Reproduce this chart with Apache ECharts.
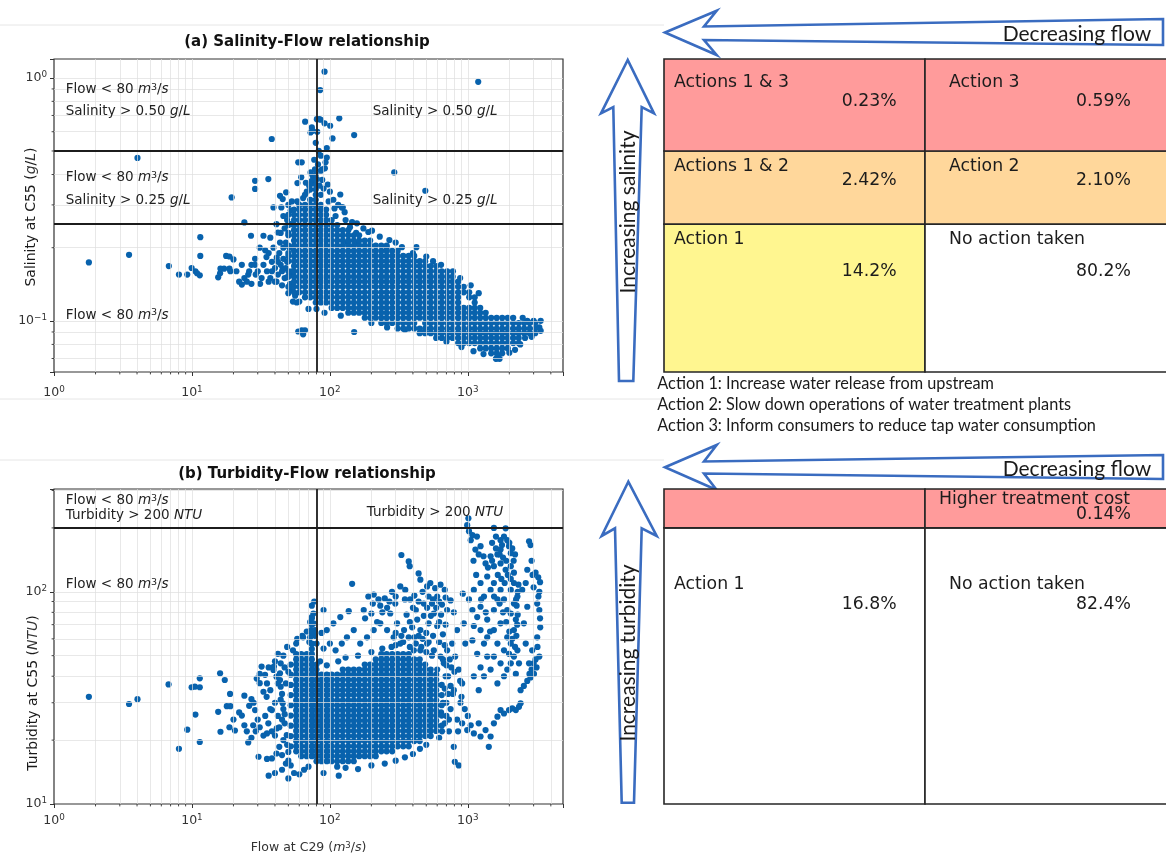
<!DOCTYPE html>
<html>
<head>
<meta charset="utf-8">
<script src="https://cdn.jsdelivr.net/npm/echarts@6.0.0/dist/echarts.min.js"></script>
<style>
html,body{margin:0;padding:0;background:#ffffff;}
#chart{width:1166px;height:857px;}
</style>
</head>
<body>
<div id="chart"></div>
<script>
// ---------------- DATA ----------------
const flowThreshold = 80;
const salinityThresholds = [0.25, 0.5];
const turbidityThreshold = 200;
const flowRange = [1, 4900];
const salinityRange = [0.0616, 1.195];
const turbidityRange = [10, 305];
const flowLabelExps = [0, 1, 2, 3];
const salinityLabelExps = [-1, 0];
const turbidityLabelExps = [1, 2];
const flowGrid = [2,3,4,5,6,7,8,9,10,20,30,40,50,60,70,80,90,100,200,300,400,500,600,700,800,900,1000,2000,3000,4000];
const salinityGrid = [0.07,0.08,0.09,0.1,0.2,0.3,0.4,0.5,0.6,0.7,0.8,0.9,1];
const turbidityGrid = [20,30,40,50,60,70,80,90,100,200,300];
const flowMinor = [2,3,4,5,6,7,8,9,20,30,40,50,60,70,80,90,200,300,400,500,600,700,800,900,2000,3000,4000];
const salinityMinor = [0.07,0.08,0.09,0.2,0.3,0.4,0.5,0.6,0.7,0.8,0.9];
const turbidityMinor = [20,30,40,50,60,70,80,90,200,300];

const salinitySparse = [
[1.79,0.174],[3.5,0.187],[4.03,0.468],[6.8,0.168],[8.05,0.155],[9.25,0.155],[9.95,0.165],[10.6,0.16],[11.4,0.154],[11.5,0.221],[11.5,0.185],[10.9,0.157],
[15.5,0.151],[16,0.157],[17.1,0.164],[17.7,0.185],[18.7,0.184],[20,0.179],[19.4,0.322],[16.1,0.164],[18.7,0.164],[23,0.141],[24,0.254],[25.6,0.155],[26.8,0.224],
[28.7,0.377],[28.7,0.349],[28.7,0.18],[28.7,0.17],[27,0.142],[31.2,0.142],[33,0.224],[34.7,0.183],[35.8,0.383],[37.9,0.56],[39,0.293],[41.2,0.182],[43.5,0.327],
[45.5,0.317],[44.5,0.293],[48.2,0.338],[42,0.231],[43.5,0.21],[45.5,0.164],[48.7,0.151],[51.5,0.142],[56,0.127],[57.5,0.119],[59,0.0904],[59,0.449],
[33,0.17],[35,0.16],[37,0.15],[38,0.175],[40,0.165],[41,0.145],[42,0.155],[44,0.17],[45,0.16],[46,0.18],[47,0.15],[48,0.165],[49,0.175],[50,0.19],[51,0.2],
[52,0.155],[53,0.16],[36,0.19],[39,0.2],[43,0.19],[46,0.2],[48,0.21],[50,0.23],[52,0.25],[49,0.26],[47,0.24],[44,0.23],[30,0.16],[32,0.15],[29,0.155],[26,0.16],
[27,0.17],[25,0.145],[24,0.15],[22,0.145],[21,0.16],[23,0.17],[19,0.16],[34,0.195],[31,0.2],[40,0.145],[45,0.14],[42,0.175],[38,0.16],[36,0.145],[50,0.13],
[53,0.135],[54,0.12],[52,0.285],[46,0.27],[41,0.25],[37,0.22],[53,0.31],[50,0.3],
[91.5,1.06],[85,0.89],[1190,0.963],[66.2,0.66],[74,0.625],[80.5,0.676],[84,0.676],[86,0.672],[91.5,0.65],[100.5,0.635],[117,0.681],[150,0.581],[104.5,0.563],
[72.4,0.596],[75,0.605],[95,0.514],[86,0.478],[93,0.449],[92,0.424],[86,0.415],[95,0.47],[62.5,0.449],[75,0.395],[72.5,0.408],[80.5,0.383],[88,0.42],[96.6,0.364],
[293,0.408],[492,0.343],[119,0.331],[106,0.315],[122,0.293],[124,0.293],[58.2,0.369],[70.8,0.36],[74,0.377],[157,0.252],[202,0.235],[140,0.243],[155,0.23],
[135,0.21],[161,0.209],[258,0.201],[333,0.201],[424,0.201],[500,0.184],
[110,0.27],[130,0.26],[145,0.255],[175,0.24],[190,0.232],[230,0.222],[270,0.215],[300,0.21],[90,0.35],[84,0.36],[78,0.42],[82,0.44],[88,0.38],[100,0.34],
[68,0.34],[64,0.32],[58,0.31],[98,0.31],[108,0.29],[115,0.3],[128,0.28],[62,0.39],[67,0.37],[77,0.46],[83,0.5],[79,0.54],[81,0.6],
[62.5,0.0915],[66,0.0915],[64,0.088],[91.5,0.108],[80,0.112],[150,0.09],[487,0.09],[350,0.092],[70,0.112],[60,0.12],[120,0.105],[200,0.098],[260,0.094],
[700,0.082],[900,0.078],[1100,0.075],[1300,0.073],[1600,0.0698],[1650,0.072],[1700,0.0698],[2000,0.074],[2200,0.076],[2400,0.08],[2600,0.085],[2900,0.086],
[3300,0.094],[3376,0.1],[2700,0.1],[3000,0.1],[2500,0.103],[1200,0.13],[1050,0.14],[880,0.15],[640,0.17],[560,0.176],[400,0.19],[780,0.16]
];

const salinityDenseCols = [
[50,[0.138,0.152,0.16,0.176,0.185,0.204,0.225,0.248,0.273]],
[55,[0.131,0.138,0.145,0.152,0.16,0.168,0.176,0.185,0.194,0.204,0.214,0.225,0.236,0.248,0.26,0.273,0.287]],
[60,[0.131,0.138,0.145,0.152,0.16,0.168,0.176,0.185,0.194,0.204,0.214,0.225,0.236,0.248,0.26,0.273,0.287,0.3]],
[66,[0.125,0.131,0.138,0.145,0.152,0.16,0.168,0.176,0.185,0.194,0.204,0.214,0.225,0.236,0.248,0.26,0.273,0.287,0.3,0.33]],
[72,[0.125,0.131,0.138,0.145,0.152,0.16,0.168,0.176,0.185,0.194,0.204,0.214,0.225,0.236,0.248,0.26,0.273,0.287,0.3,0.315,0.347,0.364]],
[79,[0.119,0.125,0.131,0.138,0.145,0.152,0.16,0.168,0.176,0.185,0.194,0.204,0.214,0.225,0.236,0.248,0.26,0.273,0.287,0.3,0.315,0.33,0.347,0.364,0.382,0.4]],
[86,[0.119,0.125,0.131,0.138,0.145,0.152,0.16,0.168,0.176,0.185,0.194,0.204,0.214,0.225,0.236,0.248,0.26,0.273,0.287,0.3,0.33]],
[94,[0.119,0.125,0.131,0.138,0.145,0.152,0.16,0.168,0.176,0.185,0.194,0.204,0.214,0.225,0.236,0.248,0.26,0.273,0.287]],
[103,[0.113,0.119,0.125,0.131,0.138,0.145,0.152,0.16,0.168,0.176,0.185,0.194,0.204,0.214,0.225,0.236,0.248,0.26]],
[113,[0.113,0.119,0.125,0.131,0.138,0.145,0.152,0.16,0.168,0.176,0.185,0.194,0.204,0.214,0.225,0.236,0.248]],
[124,[0.113,0.119,0.125,0.131,0.138,0.145,0.152,0.16,0.168,0.176,0.185,0.194,0.204,0.214,0.225,0.236]],
[136,[0.108,0.113,0.119,0.125,0.131,0.138,0.145,0.152,0.16,0.168,0.176,0.185,0.194,0.204,0.214,0.225,0.236]],
[149,[0.108,0.113,0.119,0.125,0.131,0.138,0.145,0.152,0.16,0.168,0.176,0.185,0.194,0.204,0.214,0.225]],
[163,[0.108,0.113,0.119,0.125,0.131,0.138,0.145,0.152,0.16,0.168,0.176,0.185,0.194,0.204,0.214,0.225]],
[179,[0.103,0.108,0.113,0.119,0.125,0.131,0.138,0.145,0.152,0.16,0.168,0.176,0.185,0.194,0.204,0.214]],
[196,[0.103,0.108,0.113,0.119,0.125,0.131,0.138,0.145,0.152,0.16,0.168,0.176,0.185,0.194,0.204,0.214]],
[215,[0.103,0.108,0.113,0.119,0.125,0.131,0.138,0.145,0.152,0.16,0.168,0.176,0.185,0.194,0.204]],
[236,[0.098,0.103,0.108,0.113,0.119,0.125,0.131,0.138,0.145,0.152,0.16,0.168,0.176,0.185,0.194,0.204]],
[258,[0.098,0.103,0.108,0.113,0.119,0.125,0.131,0.138,0.145,0.152,0.16,0.168,0.176,0.185,0.194,0.204]],
[283,[0.098,0.103,0.108,0.113,0.119,0.125,0.131,0.138,0.145,0.152,0.16,0.168,0.176,0.185,0.194]],
[310,[0.093,0.098,0.103,0.108,0.113,0.119,0.125,0.131,0.138,0.145,0.152,0.16,0.168,0.176,0.185,0.194]],
[340,[0.093,0.098,0.103,0.108,0.113,0.119,0.125,0.131,0.138,0.145,0.152,0.16,0.168,0.176,0.185]],
[373,[0.093,0.098,0.103,0.108,0.113,0.119,0.125,0.131,0.138,0.145,0.152,0.16,0.168,0.176,0.185]],
[409,[0.093,0.098,0.103,0.108,0.113,0.119,0.125,0.131,0.138,0.145,0.152,0.16,0.168,0.176,0.185]],
[448,[0.089,0.093,0.103,0.108,0.113,0.119,0.125,0.131,0.138,0.145,0.152,0.16,0.168,0.176]],
[491,[0.089,0.093,0.098,0.103,0.108,0.113,0.119,0.125,0.131,0.138,0.145,0.152,0.16,0.168,0.176]],
[538,[0.089,0.093,0.098,0.103,0.108,0.113,0.119,0.125,0.131,0.138,0.145,0.152,0.16,0.168]],
[590,[0.085,0.089,0.093,0.098,0.103,0.108,0.113,0.119,0.125,0.131,0.138,0.145,0.152,0.16,0.168]],
[647,[0.085,0.089,0.093,0.098,0.103,0.108,0.113,0.119,0.125,0.131,0.138,0.145,0.152,0.16]],
[709,[0.085,0.089,0.093,0.098,0.103,0.108,0.113,0.119,0.125,0.131,0.138,0.145,0.152,0.16]],
[777,[0.085,0.089,0.093,0.098,0.103,0.108,0.113,0.119,0.125,0.131,0.138,0.145,0.152]],
[852,[0.081,0.085,0.089,0.093,0.098,0.103,0.108,0.113,0.119,0.125,0.131,0.138,0.145]],
[934,[0.081,0.085,0.089,0.093,0.098,0.103,0.108,0.113,0.131,0.138]],
[1024,[0.081,0.085,0.089,0.093,0.098,0.103,0.108,0.113,0.125,0.131]],
[1122,[0.081,0.085,0.089,0.093,0.098,0.103,0.108,0.113,0.119,0.125]],
[1230,[0.077,0.081,0.085,0.089,0.093,0.098,0.103,0.108,0.113]],
[1348,[0.077,0.081,0.085,0.089,0.093,0.098,0.103,0.108]],
[1478,[0.0735,0.077,0.081,0.085,0.089,0.093,0.098,0.103]],
[1620,[0.07,0.0735,0.077,0.081,0.085,0.089,0.093,0.098,0.103]],
[1776,[0.0735,0.077,0.081,0.085,0.089,0.093,0.098,0.103]],
[1947,[0.077,0.081,0.085,0.089,0.093,0.098,0.103]],
[2134,[0.081,0.085,0.089,0.093,0.098,0.103]],
[2339,[0.081,0.085,0.089,0.093,0.098]],
[2564,[0.089,0.093,0.098]],
[2810,[0.089,0.093,0.098]],
[3080,[0.089,0.093,0.098]],
[3376,[0.091]]
];

const turbiditySparse = [
[1.79,32],[3.5,29.6],[4.03,31.2],[6.77,36.6],[8.05,18.2],[9.25,22.4],[9.95,35.5],[10.5,35.7],[11.4,39.1],[11.4,35.5],[10.6,26.4],[11.4,19.6],
[16,41.3],[17.3,38.4],[18.9,33],[17.9,28.9],[19,28.9],[15.5,27.2],[16.1,21.9],[18.7,23],[20.5,22.2],[23,26.1],[24,32.4],[25.6,19.5],[27,31.2],[27.8,23.5],
[28.7,27.7],[30.4,16.7],[32,44.4],[33.9,40.6],[29.5,39],[31,37.1],[33,33.8],[34.8,32],[35.8,24],[38,27.7],[39.3,44.4],[38,16.4],[41.2,22.7],[43,18.6],
[43.5,41.3],[43.5,38.4],[44,35.7],[45,33],[45.5,29.8],[47,24],[48.7,21.1],[50,17.6],[52,15.2],
[31,41],[35,37],[37,34.4],[39,42.8],[41,39.8],[42,37],[44,31],[46,28],[47,26.5],[45,25],[43,23],[40,21],[38,22],[35,21.5],[33,21],[31,23],[29,22],[27,20.5],
[25,22],[24,23.5],[35,16.3],[41,17.3],[45,17],[48,15.5],[50,16],[49,19],[46,20],[42,26],[40,30],[37,28],[34,26],[30,25],[28,30],[26,29],[22,27],[20,25],
[36,44],[40,47],[44,46],[47,44],[50,42],[48,37],[46,50],[42,51],[49,55],[45,14.5],[40,14],[36,13.6],[50,13.2],[55,14],[60,13.8],[65,14.5],[70,15],
[58,60],[63,62],[68,65],[72,72],[76,79],[74,86],[77,90],[73,66],[78,62],[71,58],
[330,149],[373,139],[379,132],[145,109],[137,81],[176,82],[190,95],[205,88],[208,97],[225,92],[232,86],[250,93],[260,84],[282,100],[298,88],[274,79],[200,79],
[180,75],[324,106],[352,102],[382,92],[440,122],[453,114],[507,106],[535,110],[580,104],[634,108],[680,102],[600,95],[550,88],[507,84],[567,79],[650,87],
[708,82],[480,77],[430,74],[395,68],[453,66],[520,71],[600,69],[660,63],[307,71],[345,66],[373,61],[290,61],[324,57],[260,66],[232,71],[208,66],[186,61],
[166,57],[149,66],[133,61],[122,57],[110,53],[100,57],[90,54],[80,57],[87,64],[95,66],[106,71],[119,76],[90,82],[74,76],[76,71],[78,66],[72,61],[74,57],
[64,61],[57,57],[54,53],[507,57],[567,53],[634,49.5],[708,53],[670,46],[600,43],[453,53],[406,53],
[300,56],[340,58],[380,55],[420,57],[460,55],[500,52],[550,50],[280,55],[240,54],[200,52],[160,50],[130,49],[115,47],[95,45],[85,47],
[410,96],[470,100],[520,95],[560,92],[620,90],[690,94],[400,84],[440,90],[590,84],[640,78],[360,78],[420,82],[480,88],[540,77],[620,72],[690,70],[380,72],
[440,62],[500,64],[560,62],[620,58],[680,56],[350,92],[300,95],[270,90],[240,80],[220,72],[300,64],[330,62],[410,61],[470,60],[520,58],
[750,91],[792,80],[836,66],[770,57],[810,49.5],[860,43],[910,37],[792,34.4],[885,30],[750,28],[836,25],[730,22],[791,18.6],[805,15.8],[860,15.2],[935,71],
[960,57],[910,24],[990,22.3],[920,98],[720,40],[750,36],[780,33],[700,30],[730,25],[680,24],[900,32],[950,28],[1000,26],[850,22],[880,38],[700,45],[660,48],
[680,35],[660,30],[700,26],[650,22],[720,33],[760,44],[640,27],[690,40],[740,48],[800,42],
[1010,222],[990,206],[1020,193],[1080,185],[1050,175],[1165,182],[1135,158],[1237,164],[1300,147],[1345,136],[1463,147],[1546,200],[1600,182],[1728,175],
[1770,166],[1830,182],[1880,199],[1932,175],[1990,164],[2050,152],[1728,158],[1640,150],[1546,132],[1728,136],[1880,127],[2050,132],[2160,123],[2160,110],
[2050,102],[2290,95],[2160,88],[2050,79],[2230,74],[2160,66],[1932,61],[2050,57],[1830,53],[1640,57],[1546,49.5],[1728,46],[1932,43],[1830,40],[1640,37],
[1463,43],[1383,49.5],[1310,57],[1237,66],[1383,74],[1546,82],[1640,92],[1463,102],[1310,95],[1237,85],[1170,76],[1106,69],[1080,59],[1170,51],[1237,44],
[1106,40],[1200,34.4],[1310,40],[1080,82],[1020,92],[1106,102],[1237,110],[1383,118],[1546,110],[1728,102],[1830,92],[1932,82],[1728,71],[1546,66],[1383,61],
[2160,49.5],[2290,53],[2350,46],[2230,41],[2050,46],[1990,51],
[1500,170],[1600,160],[1700,150],[1800,145],[1900,140],[2000,170],[2100,160],[2200,150],[1650,120],[1750,115],[1850,110],[1950,120],[2050,115],[2150,140],
[1550,95],[1700,88],[1800,80],[1900,72],[2000,65],[2100,60],[2200,55],[1450,65],[1350,80],[1250,92],[1150,120],[1100,140],[1200,150],[1400,130],[1500,140],
[2250,62],[2280,70],[2300,78],[2260,86],[2240,92],[2300,100],[2330,108],
[1050,23.5],[1106,21.5],[1200,24],[1237,20.8],[1345,22.3],[1463,20.8],[1546,24],[1640,25.8],[1728,27.7],[1830,26.7],[1990,27.7],[2100,28.2],[2230,27.7],
[2350,28.7],[2414,29.8],[1420,18.6],
[2780,173],[2850,166],[2699,127],[3100,123],[3240,117],[3340,111],[3300,100],[3185,88],[3340,75],[3185,61],[3300,49.5],[3150,44],[3017,41],[2850,39.5],
[2699,38],[2550,36],[2414,34.4],[2780,46],[2930,53],[2630,57],[2550,71],[2699,85],[2480,102],[2630,110],
[2900,140],[2950,120],[3000,105],[3250,95],[3300,82],[3350,68],[3200,55],[3100,48],[3000,46],[2900,43],[2800,41],
[116,13.6],[90,14],[130,14.8],[200,15.2],[300,16],[400,17.2],[500,19],[620,20.5],[160,14.6],[250,15.5],[350,16.6],[450,18.2]
];

const turbidityDenseCols = [
[52,[18.7,20.9,23.4,26.1,29.2,32.6,36.4,40.7,45.4]],
[57,[17.7,18.7,19.8,20.9,22.1,23.4,24.7,26.1,27.6,29.2,30.8,32.6,34.4,36.4,38.5,40.7,43,45.4,48,50.8]],
[62,[16.8,17.7,18.7,19.8,20.9,22.1,23.4,24.7,26.1,27.6,29.2,30.8,32.6,34.4,36.4,38.5,40.7,43,45.4,48,50.8]],
[68,[16.8,17.7,18.7,19.8,20.9,22.1,23.4,24.7,26.1,27.6,29.2,30.8,32.6,34.4,36.4,38.5,40.7,43,45.4,48,50.8]],
[74,[16.8,17.7,18.7,19.8,20.9,22.1,23.4,24.7,26.1,27.6,29.2,30.8,32.6,34.4,36.4,38.5,40.7,43,45.4,48,50.8,53.7,56.7,64,70,75]],
[80,[15.9,16.8,17.7,18.7,19.8,20.9,22.1,23.4,24.7,26.1,27.6,29.2,30.8,32.6,34.4,36.4,38.5,40.7,43,45.4]],
[87,[15.9,16.8,17.7,18.7,19.8,20.9,22.1,23.4,24.7,26.1,27.6,29.2,30.8,32.6,34.4,36.4,38.5,40.7]],
[95,[15.9,16.8,17.7,18.7,19.8,20.9,22.1,23.4,24.7,26.1,27.6,29.2,30.8,32.6,34.4,36.4,38.5,40.7]],
[103,[15.9,16.8,17.7,18.7,19.8,20.9,22.1,23.4,24.7,26.1,27.6,29.2,30.8,32.6,34.4,36.4,38.5,40.7]],
[113,[15,15.9,16.8,17.7,18.7,19.8,20.9,22.1,23.4,24.7,26.1,27.6,29.2,30.8,32.6,34.4,36.4,38.5,40.7]],
[124,[15.9,16.8,17.7,18.7,19.8,20.9,22.1,23.4,24.7,26.1,27.6,29.2,30.8,32.6,34.4,36.4,38.5,40.7,43]],
[136,[15.9,16.8,17.7,18.7,19.8,20.9,22.1,23.4,24.7,26.1,27.6,29.2,30.8,32.6,34.4,36.4,38.5,40.7,43]],
[149,[15.9,16.8,17.7,18.7,19.8,20.9,22.1,23.4,24.7,26.1,27.6,29.2,30.8,32.6,34.4,36.4,38.5,40.7,43]],
[163,[16.8,17.7,18.7,19.8,20.9,22.1,23.4,24.7,26.1,27.6,29.2,30.8,32.6,34.4,36.4,38.5,40.7,43]],
[179,[16.8,17.7,18.7,19.8,20.9,22.1,23.4,24.7,26.1,27.6,29.2,30.8,32.6,34.4,36.4,38.5,40.7,43,45.4]],
[196,[16.8,17.7,18.7,19.8,20.9,22.1,23.4,24.7,26.1,27.6,29.2,30.8,32.6,34.4,36.4,38.5,40.7,43,45.4]],
[215,[16.8,17.7,18.7,19.8,20.9,22.1,23.4,24.7,26.1,27.6,29.2,30.8,32.6,34.4,36.4,38.5,40.7,43,45.4,48]],
[236,[17.7,18.7,19.8,20.9,22.1,23.4,24.7,26.1,27.6,29.2,30.8,32.6,34.4,36.4,38.5,40.7,43,45.4,48,50.8]],
[258,[17.7,18.7,19.8,20.9,22.1,23.4,24.7,26.1,27.6,29.2,30.8,32.6,34.4,36.4,38.5,40.7,43,45.4,48,50.8]],
[283,[17.7,18.7,19.8,20.9,22.1,23.4,24.7,26.1,27.6,29.2,30.8,32.6,34.4,36.4,38.5,40.7,43,45.4,48,50.8]],
[310,[18.7,19.8,20.9,22.1,23.4,24.7,26.1,27.6,29.2,30.8,32.6,34.4,36.4,38.5,40.7,43,45.4,48,50.8]],
[340,[18.7,19.8,20.9,22.1,23.4,24.7,26.1,27.6,29.2,30.8,32.6,34.4,36.4,38.5,40.7,43,45.4,48,50.8]],
[373,[18.7,19.8,20.9,22.1,23.4,24.7,26.1,27.6,29.2,30.8,32.6,34.4,36.4,38.5,40.7,43,45.4,48,50.8]],
[409,[19.8,20.9,22.1,23.4,24.7,26.1,27.6,29.2,30.8,32.6,34.4,36.4,38.5,40.7,43,45.4,48]],
[448,[19.8,20.9,22.1,23.4,24.7,26.1,27.6,29.2,30.8,32.6,34.4,36.4,38.5,40.7,43,45.4,48]],
[491,[20.9,22.1,23.4,24.7,26.1,27.6,29.2,30.8,32.6,34.4,36.4,38.5,40.7,43,45.4]],
[538,[20.9,22.1,23.4,24.7,26.1,27.6,29.2,30.8,32.6,34.4,36.4,38.5,40.7,43]],
[590,[22.1,23.4,24.7,26.1,27.6,29.2,30.8,32.6,34.4,36.4,38.5,40.7]],
[647,[23.4,26.1,29.2,32.6,36.4]]
];

// Decision tables (rows bottom -> top, columns: flow < 80 | flow >= 80)
const salinityRowActions = [["Action 1","No action taken"],["Actions 1 & 2","Action 2"],["Actions 1 & 3","Action 3"]];
const salinityRowShares = [[14.2,80.2],[2.42,2.10],[0.23,0.59]];
const turbidityRowActions = [["Action 1","No action taken"],["","Higher treatment cost"]];
const turbidityRowShares = [[16.8,82.4],[null,0.14]];
const actionNotes = [
  "Action 1: Increase water release from upstream",
  "Action 2: Slow down operations of water treatment plants",
  "Action 3: Inform consumers to reduce tap water consumption"
];

// ---------------- STYLE / LAYOUT ----------------
const DOT = '#0862ad';
const FONT = 'DejaVu Sans';
const ARROW_FONT = 'Lato';
const TABLE_COL_PX = 261;
const TABLE_VISIBLE_PX = 502;
const salinityCellColors = [['#fff690','#ffffff'],['#ffd79b','#ffd79b'],['#ff9b9b','#ff9b9b']];
const turbidityCellColors = [['#ffffff','#ffffff'],['#ff9b9b','#ff9b9b']];
const salinityCellText = [
  [{nx:10,ny:15.8,px:232.7,py:47.8},{nx:24,ny:15.8,px:206,py:47.8}],
  [{nx:10,ny:15.9,px:232.7,py:29.9},{nx:24,ny:15.9,px:206,py:29.9}],
  [{nx:10,ny:23.7,px:232.7,py:42.7},{nx:24,ny:23.7,px:206,py:42.7}]
];
const turbidityCellText = [
  [{nx:10,ny:56.2,px:232.7,py:76.2},{nx:24,ny:56.2,px:206,py:76.2}],
  [{nx:10,ny:10.7,px:232.7,py:25.7},{nx:14,ny:10.7,px:206,py:25.7}]
];

const expand = cols => cols.flatMap(([f, vals]) => vals.map(v => [f, v]));
const salinityPoints = salinitySparse.concat(expand(salinityDenseCols));
const turbidityPoints = turbiditySparse.concat(expand(turbidityDenseCols));

function bandsFrom(range, thresholds) {
  const b = [range[0]].concat(thresholds).concat([range[1]]);
  const out = [];
  for (let i = 0; i < b.length - 1; i++) out.push([b[i], b[i + 1]]);
  return out;
}
function buildCells(range, thresholds, actions, shares, colors, layout) {
  const bands = bandsFrom(range, thresholds);
  const cells = [];
  bands.forEach((band, r) => {
    for (let c = 0; c < 2; c++) {
      cells.push({value: [c, band[0], band[1], r, c], name: actions[r][c], share: shares[r][c], color: colors[r][c], lay: layout[r][c]});
    }
  });
  return cells;
}
const salinityCells = buildCells(salinityRange, salinityThresholds, salinityRowActions, salinityRowShares, salinityCellColors, salinityCellText);
const turbidityCells = buildCells(turbidityRange, [turbidityThreshold], turbidityRowActions, turbidityRowShares, turbidityCellColors, turbidityCellText);

const fmtShare = v => (v >= 10 ? v.toFixed(1) : v.toFixed(2)) + '%';

function cellRenderer(cells) {
  return function (params, api) {
    const cell = cells[params.dataIndex];
    const c = api.value(0), lo = api.value(1), hi = api.value(2);
    const tl = api.coord([c, hi]);
    const br = api.coord([c + 1, lo]);
    const children = [{
      type: 'rect',
      shape: {x: tl[0], y: tl[1], width: br[0] - tl[0], height: br[1] - tl[1]},
      style: {fill: cell.color, stroke: '#262626', lineWidth: 1.6}
    }];
    const L = cell.lay;
    const ts = (txt, align) => ({text: txt, fontSize: 17.3, fontFamily: FONT, fill: '#1c1c1c',
      align: align, textAlign: align, verticalAlign: 'middle', textVerticalAlign: 'middle'});
    if (cell.name) children.push({type: 'text', x: tl[0] + L.nx, y: tl[1] + L.ny, style: ts(cell.name, 'left'), z2: 10});
    if (cell.share != null) children.push({type: 'text', x: tl[0] + L.px, y: tl[1] + L.py, style: ts(fmtShare(cell.share), 'right'), z2: 10});
    return {type: 'group', children: children};
  };
}

// minor tick marks drawn through the axes' own scales
function minorTickRenderer(dir, anchor) {
  return function (params, api) {
    const v = api.value(0);
    const p = dir === 'x' ? api.coord([v, anchor]) : api.coord([anchor, v]);
    const shape = dir === 'x' ? {x1: p[0], y1: p[1], x2: p[0], y2: p[1] + 2.4} : {x1: p[0], y1: p[1], x2: p[0] - 2.4, y2: p[1]};
    return {type: 'line', shape: shape, style: {stroke: '#333', lineWidth: 0.9}};
  };
}
function minorTickSeries(dir, vals, xi, yi, anchor) {
  return {type: 'custom', xAxisIndex: xi, yAxisIndex: yi, silent: true, clip: false, z: 7,
    data: vals.map(v => [v]), encode: {x: dir === 'x' ? 0 : null, y: dir === 'y' ? 0 : null},
    renderItem: minorTickRenderer(dir, anchor)};
}

function expFormatter(allowed) {
  return function (value) {
    const e = Math.log10(value);
    const r = Math.round(e);
    if (Math.abs(e - r) > 1e-6 || allowed.indexOf(r) < 0) return '';
    return '{b|10}{s|' + (r < 0 ? '\u2212' + (-r) : r) + '}';
  };
}
const tickRich = {
  b: {fontSize: 12.5, fontFamily: FONT, color: '#333', lineHeight: 16},
  s: {fontSize: 8.8, fontFamily: FONT, color: '#333', verticalAlign: 'top', lineHeight: 9}
};

function logAxis(gridIndex, range, allowed, margin, extra) {
  return Object.assign({
    type: 'log', logBase: 10, gridIndex: gridIndex, min: range[0], max: range[1],
    axisLine: {show: false},
    axisTick: {show: true, length: 4, lineStyle: {color: '#333', width: 1}},
    axisLabel: {formatter: expFormatter(allowed), rich: tickRich, margin: margin, color: '#333'},
    splitLine: {show: false}, minorTick: {show: false}
  }, extra || {});
}

const gridLineStyle = {color: 'rgba(222,222,222,0.7)', width: 1, type: 'solid'};
const threshStyle = {color: '#1c1c1c', width: 1.8, type: 'solid'};
function gridMarkLines(xVals, yVals) {
  return {
    silent: true, symbol: ['none', 'none'], z: 3, label: {show: false},
    lineStyle: gridLineStyle,
    data: xVals.map(v => ({xAxis: v})).concat(yVals.map(v => ({yAxis: v})))
  };
}
function threshMarkLines(xVals, yVals) {
  return {
    silent: true, symbol: ['none', 'none'], z: 6, label: {show: false},
    lineStyle: threshStyle,
    data: xVals.map(v => ({xAxis: v})).concat(yVals.map(v => ({yAxis: v})))
  };
}

const richAnn = {
  i: {fontStyle: 'italic', fontSize: 13.5, fontFamily: FONT, fill: '#222', color: '#222'},
  p: {fontSize: 9.5, fontFamily: FONT, fill: '#222', color: '#222', verticalAlign: 'top', lineHeight: 10}
};
function ann(x, y, text) {
  return {type: 'text', x: x, y: y, z: 20, silent: true,
    style: {text: text, rich: richAnn, fontSize: 13.5, fontFamily: FONT, fill: '#222',
      align: 'left', textAlign: 'left', verticalAlign: 'middle', textVerticalAlign: 'middle'}};
}
const flowTxt = 'Flow < ' + flowThreshold + ' {i|m}{p|3}/{i|s}';
const sal50 = 'Salinity > ' + salinityThresholds[1].toFixed(2) + ' {i|g}/{i|L}';
const sal25 = 'Salinity > ' + salinityThresholds[0].toFixed(2) + ' {i|g}/{i|L}';
const turbTxt = 'Turbidity > ' + turbidityThreshold + ' {i|NTU}';

function plainText(x, y, text, size, family, extra) {
  return Object.assign({type: 'text', x: x, y: y, z: 20, silent: true,
    style: {text: text, fontSize: size, fontFamily: family, fill: '#1a1a1a',
      align: 'left', textAlign: 'left', verticalAlign: 'middle', textVerticalAlign: 'middle'}}, extra || {});
}
function rotText(x, y, text, size, family, rich) {
  return {type: 'text', x: x, y: y, rotation: Math.PI / 2, z: 20, silent: true,
    style: {text: text, rich: rich, fontSize: size, fontFamily: family, fill: '#1a1a1a',
      align: 'center', textAlign: 'center', verticalAlign: 'middle', textVerticalAlign: 'middle'}};
}
const arrowStyle = {fill: '#ffffff', stroke: '#3a6cc0', lineWidth: 2.6, lineJoin: 'miter'};
const sepStyle = {stroke: '#e6e6e6', lineWidth: 1};
const yTitleRich = {i: {fontStyle: 'italic', fontSize: 14, fontFamily: FONT, fill: '#333', color: '#333'}};

const option = {
  animation: false,
  backgroundColor: '#ffffff',
  textStyle: {fontFamily: FONT},
  title: [
    {text: '(a) Salinity-Flow relationship', left: 307, top: 35, textAlign: 'center', padding: 0,
      textStyle: {fontSize: 15, fontWeight: 'bold', fontFamily: FONT, color: '#111'}},
    {text: '(b) Turbidity-Flow relationship', left: 307, top: 467, textAlign: 'center', padding: 0,
      textStyle: {fontSize: 15, fontWeight: 'bold', fontFamily: FONT, color: '#111'}}
  ],
  grid: [
    {left: 54, top: 59, width: 509, height: 313, show: true, borderColor: '#333', borderWidth: 1.2, backgroundColor: 'transparent'},
    {left: 54, top: 489, width: 509, height: 315, show: true, borderColor: '#333', borderWidth: 1.2, backgroundColor: 'transparent'},
    {left: 664, top: 59, width: TABLE_VISIBLE_PX, height: 313, show: false, outerBoundsMode: 'none'},
    {left: 664, top: 489, width: TABLE_VISIBLE_PX, height: 315, show: false, outerBoundsMode: 'none'}
  ],
  xAxis: [
    logAxis(0, flowRange, flowLabelExps, 13),
    logAxis(1, flowRange, flowLabelExps, 9, {
      name: 'Flow at C29 ({i|m}{p|3}/{i|s})', nameLocation: 'middle', nameGap: 37,
      nameTextStyle: {fontSize: 12.5, fontFamily: FONT, color: '#333',
        rich: {i: {fontStyle: 'italic', fontSize: 12.5, fontFamily: FONT, color: '#333'},
               p: {fontSize: 8.5, fontFamily: FONT, color: '#333', verticalAlign: 'top', lineHeight: 9}}}
    }),
    {type: 'value', gridIndex: 2, min: 0, max: TABLE_VISIBLE_PX / TABLE_COL_PX, show: false},
    {type: 'value', gridIndex: 3, min: 0, max: TABLE_VISIBLE_PX / TABLE_COL_PX, show: false}
  ],
  yAxis: [
    logAxis(0, salinityRange, salinityLabelExps, 7),
    logAxis(1, turbidityRange, turbidityLabelExps, 7),
    {type: 'log', logBase: 10, gridIndex: 2, min: salinityRange[0], max: salinityRange[1], show: false},
    {type: 'log', logBase: 10, gridIndex: 3, min: turbidityRange[0], max: turbidityRange[1], show: false}
  ],
  series: [
    {type: 'scatter', name: 'gridA', xAxisIndex: 0, yAxisIndex: 0, data: [], silent: true,
      markLine: gridMarkLines(flowGrid, salinityGrid)},
    {type: 'scatter', name: 'Salinity', xAxisIndex: 0, yAxisIndex: 0, data: salinityPoints,
      symbol: 'circle', symbolSize: 6.2, itemStyle: {color: DOT, opacity: 1}, silent: true, z: 2,
      markLine: threshMarkLines([flowThreshold], salinityThresholds)},
    {type: 'scatter', name: 'gridB', xAxisIndex: 1, yAxisIndex: 1, data: [], silent: true,
      markLine: gridMarkLines(flowGrid, turbidityGrid)},
    {type: 'scatter', name: 'Turbidity', xAxisIndex: 1, yAxisIndex: 1, data: turbidityPoints,
      symbol: 'circle', symbolSize: 6.2, itemStyle: {color: DOT, opacity: 1}, silent: true, z: 2,
      markLine: threshMarkLines([flowThreshold], [turbidityThreshold])},
    {type: 'custom', name: 'Salinity actions', xAxisIndex: 2, yAxisIndex: 2, silent: true, clip: false,
      data: salinityCells.map(c => c.value), renderItem: cellRenderer(salinityCells)},
    {type: 'custom', name: 'Turbidity actions', xAxisIndex: 3, yAxisIndex: 3, silent: true, clip: false,
      data: turbidityCells.map(c => c.value), renderItem: cellRenderer(turbidityCells)},
    minorTickSeries('x', flowMinor, 0, 0, salinityRange[0]),
    minorTickSeries('y', salinityMinor, 0, 0, flowRange[0]),
    minorTickSeries('x', flowMinor, 1, 1, turbidityRange[0]),
    minorTickSeries('y', turbidityMinor, 1, 1, flowRange[0])
  ],
  graphic: [
    {type: 'line', silent: true, shape: {x1: 0, y1: 25, x2: 664, y2: 25}, style: sepStyle},
    {type: 'line', silent: true, shape: {x1: 0, y1: 399, x2: 664, y2: 399}, style: sepStyle},
    {type: 'line', silent: true, shape: {x1: 0, y1: 460, x2: 664, y2: 460}, style: sepStyle},
    // plot annotations
    ann(65.7, 89.3, flowTxt), ann(65.7, 111, sal50),
    ann(65.7, 177.7, flowTxt), ann(65.7, 200.7, sal25),
    ann(65.7, 315, flowTxt),
    ann(372.7, 111, sal50), ann(372.7, 200.7, sal25),
    ann(65.7, 500.3, flowTxt), ann(65.7, 515.3, turbTxt),
    ann(65.7, 584.7, flowTxt),
    ann(366.7, 512.7, turbTxt),
    rotText(31.7, 217, 'Salinity at C55 ({i|g}/{i|L})', 14, FONT, yTitleRich),
    rotText(33, 693, 'Turbidity at C55 ({i|NTU})', 14, FONT, yTitleRich),
    // arrows
    {type: 'polygon', silent: true, z: 1, shape: {points: [[665,32.5],[716.7,10.7],[704,26.5],[1163,19],[1163,45],[704,40],[716.7,55]]}, style: arrowStyle},
    {type: 'polygon', silent: true, z: 1, shape: {points: [[665,467.3],[716.7,445],[704,461.5],[1163,455],[1163,479],[704,473.5],[716.7,490]]}, style: arrowStyle},
    {type: 'polygon', silent: true, z: 1, shape: {points: [[627.7,60],[601,113.3],[613.3,107],[619,381],[633.3,381],[641.7,107],[654,113.3]]}, style: arrowStyle},
    {type: 'polygon', silent: true, z: 1, shape: {points: [[628.3,481.7],[601.7,536],[615,528.3],[621.7,802.7],[634,802.7],[641.7,528.3],[656.7,536]]}, style: arrowStyle},
    plainText(1002.7, 34, 'Decreasing flow', 21, ARROW_FONT),
    plainText(1002.7, 469, 'Decreasing flow', 21, ARROW_FONT),
    rotText(628.3, 212, 'Increasing salinity', 21, ARROW_FONT, {}),
    rotText(628.3, 653, 'Increasing turbidity', 21, ARROW_FONT, {}),
    plainText(657.3, 383.3, actionNotes[0], 16.3, ARROW_FONT),
    plainText(657.3, 405, actionNotes[1], 16.3, ARROW_FONT),
    plainText(657.3, 425.7, actionNotes[2], 16.3, ARROW_FONT)
  ]
};

const chart = echarts.init(document.getElementById('chart'), null, {renderer: 'canvas'});
chart.setOption(option);
</script>
</body>
</html>
